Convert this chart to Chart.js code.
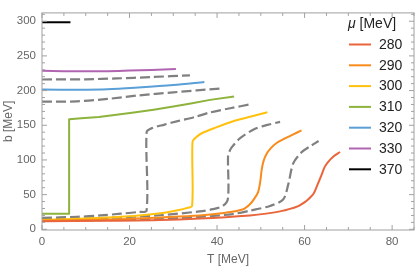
<!DOCTYPE html>
<html>
<head>
<meta charset="utf-8">
<script src="https://cdn.jsdelivr.net/npm/chart.js@4/dist/chart.umd.min.js"></script>
<style>
  body { margin: 0; background: #fff; }
  #wrap { width: 415px; height: 268px; }
</style>
</head>
<body>
<div id="wrap"><canvas id="myChart"></canvas></div>
<script>
// legend values of mu [MeV]
const muLabels = ["280", "290", "300", "310", "320", "330", "370"];
const muColors = ["#e9653b", "#f98b1d", "#ffc10c", "#8db33c", "#5a9fd6", "#b165b1", "#000000"];

// solid curves, T [MeV] and b [MeV]
const T280 = [0, 15, 27, 36, 47.5, 51.2, 55.1, 58.8, 61.9, 63, 63.9, 64.6, 65.4, 66.6, 68.1];
const B280 = [11.5, 12.3, 13.3, 15.5, 20, 22.6, 26.9, 34, 50, 65, 79, 90, 97.3, 105, 111.5];
const T290 = [0, 15, 27, 36, 42, 46, 47.5, 48.6, 49.4, 49.9, 50.2, 50.6, 51.3, 52.3, 53.6, 55.5, 57.3, 59.3];
const B290 = [12.5, 14, 17.2, 20, 24, 29, 36, 45, 54, 70, 86, 98, 108.6, 117, 124.5, 131, 136.5, 142.6];
const T300 = [0, 10, 18, 24, 28, 31, 33, 34.3, 34.4, 35.3, 36.5, 39.5, 44, 48, 51.5];
const B300 = [13.5, 15.5, 18, 21, 24, 27.5, 30.5, 34, 126.6, 133, 138.5, 146.3, 156.5, 163, 168.8];
const T310 = [0, 6.2, 6.2, 9, 13, 17, 21, 25.5, 30, 34, 38.4, 43.9];
const B310 = [22.5, 22.5, 158.5, 160, 162, 165, 168.5, 172.5, 177, 181.5, 186.6, 191.6];
const T320 = [0, 8, 15, 22, 30, 37.1];
const B320 = [201.5, 201.3, 202, 204.5, 208, 212.4];
const T330 = [0, 5, 10, 15, 20, 25, 30.6];
const B330 = [228.5, 228, 227.8, 228, 228.8, 229.8, 231];
const T370 = [0, 6.5];
const B370 = [298.5, 298.5];

// dashed curves between the solid ones
const T285 = [0, 15, 27, 36, 43.6, 47.5, 52.1, 55.1, 56.3, 57.4, 59.3, 61.1, 63.2];
const B285 = [12.3, 13.5, 15, 17.8, 22, 26.9, 33.7, 43, 65.5, 95, 111, 119, 127.3];
const T295 = [0, 15, 27, 36, 39, 41.4, 42.5, 42.5, 42.7, 43.3, 45.2, 48.7, 51.5, 54.4];
const B295 = [14.5, 16.5, 20.3, 25.8, 29, 34, 45, 104, 110, 117.7, 131, 145, 150.5, 154.9];
const T305 = [0, 8, 13.3, 18, 22, 23.9, 23.9, 25, 28, 31, 35, 38.4, 43, 47.7];
const B305 = [16.5, 18, 20, 22.5, 25, 27, 140, 145.5, 151, 156, 162, 168.5, 174.5, 180.3];
const T315 = [0, 8, 15, 22, 30, 40.7];
const B315 = [184, 184.5, 188, 193, 197.5, 203];
const T325 = [0, 10, 17, 25, 33.8];
const B325 = [216, 216.3, 217.5, 219.5, 222];

// axis ticks
const xTicks = [0, 20, 40, 60, 80];
const yTicks = [0, 50, 100, 150, 200, 250, 300];

const pts = (t, b) => t.map((v, i) => ({ x: v, y: b[i] }));

const solid = [
  [T280, B280], [T290, B290], [T300, B300], [T310, B310],
  [T320, B320], [T330, B330], [T370, B370],
];
const dashed = [[T285, B285], [T295, B295], [T305, B305], [T315, B315], [T325, B325]];

const datasets = [];
solid.forEach((s, i) => {
  datasets.push({
    label: muLabels[i],
    data: pts(s[0], s[1]),
    borderColor: muColors[i],
    borderWidth: 2,
    tension: i === 3 ? 0 : 0.3,
  });
});
dashed.forEach((s) => {
  datasets.push({
    label: "",
    data: pts(s[0], s[1]),
    borderColor: "#808080",
    borderWidth: 2.2,
    borderDash: [10, 4],
    tension: 0.3,
  });
});

// frame with inward ticks + legend drawn inside the plot
const framePlugin = {
  id: "frame",
  afterDraw(chart) {
    const c = chart.ctx;
    const a = chart.chartArea;
    const xs = chart.scales.x;
    const ys = chart.scales.y;
    c.save();
    c.strokeStyle = "#a0a0a0";
    c.lineWidth = 1;
    c.strokeRect(a.left, a.top, a.right - a.left, a.bottom - a.top);
    c.beginPath();
    for (let v = 0; v <= 85; v += 5) {
      const x = xs.getPixelForValue(v);
      const len = v % 20 === 0 ? 5 : 3;
      c.moveTo(x, a.bottom); c.lineTo(x, a.bottom - len);
      c.moveTo(x, a.top); c.lineTo(x, a.top + len);
    }
    for (let v = 0; v <= 310; v += 10) {
      const y = ys.getPixelForValue(v);
      const len = v % 50 === 0 ? 5 : 3;
      c.moveTo(a.left, y); c.lineTo(a.left + len, y);
      c.moveTo(a.right, y); c.lineTo(a.right - len, y);
    }
    c.stroke();

    // legend
    const lx = 348;
    c.textBaseline = "middle";
    c.fillStyle = "#222";
    c.font = "italic 14px 'Liberation Sans', Arial, sans-serif";
    c.fillText("\u03bc", lx, 24);
    const w = c.measureText("\u03bc").width;
    c.font = "14px 'Liberation Sans', Arial, sans-serif";
    c.fillText(" [MeV]", lx + w, 24);
    muLabels.forEach((lab, i) => {
      const y = 44.5 + i * 20.8;
      c.strokeStyle = muColors[i];
      c.lineWidth = 2;
      c.beginPath();
      c.moveTo(349, y); c.lineTo(371, y);
      c.stroke();
      c.fillStyle = "#222";
      c.fillText(lab, 379, y + 0.5);
    });
    c.restore();
  },
};

const tickFont = { family: "'Liberation Sans', Arial, sans-serif", size: 11.5 };
const titleFont = { family: "'Liberation Sans', Arial, sans-serif", size: 12 };

new Chart(document.getElementById("myChart"), {
  type: "scatter",
  data: { datasets: datasets },
  options: {
    responsive: true,
    maintainAspectRatio: false,
    animation: false,
    showLine: true,
    layout: { padding: { top: 1, right: 1, left: 0, bottom: 0 } },
    elements: {
      point: { radius: 0, hoverRadius: 0 },
      line: { borderCapStyle: "butt", borderJoinStyle: "round" },
    },
    plugins: { legend: { display: false }, tooltip: { enabled: false } },
    scales: {
      x: {
        type: "linear",
        min: 0,
        max: 85,
        grid: { display: false, drawTicks: false },
        border: { display: false },
        ticks: { color: "#666", font: tickFont, padding: 5 },
        afterBuildTicks: (s) => { s.ticks = xTicks.map((v) => ({ value: v })); },
        afterFit: (s) => { s.height = 38; },
        title: { display: true, text: "T [MeV]", color: "#666", font: titleFont, padding: { top: 0, bottom: 1 } },
      },
      y: {
        type: "linear",
        min: -1,
        max: 312,
        grid: { display: false, drawTicks: false },
        border: { display: false },
        ticks: { color: "#666", font: tickFont, padding: 6 },
        afterBuildTicks: (s) => { s.ticks = yTicks.map((v) => ({ value: v })); },
        afterFit: (s) => { s.width = 42; },
        title: { display: true, text: "b [MeV]", color: "#666", font: titleFont, padding: { top: 1, bottom: 0 } },
      },
    },
  },
  plugins: [framePlugin],
});
</script>
</body>
</html>
